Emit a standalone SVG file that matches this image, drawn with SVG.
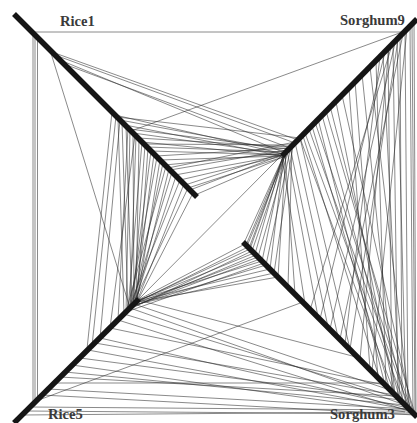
<svg xmlns="http://www.w3.org/2000/svg" width="417" height="423" viewBox="0 0 417 423">
<style>
.chr{stroke:#151515;stroke-width:5.5;stroke-linecap:butt;fill:none}
.lbl{font-family:"Liberation Serif","Times New Roman",serif;font-weight:bold;font-size:14.6px;fill:#3a3a3a}
.ln{stroke:#2a2a2a;stroke-width:0.65;fill:none;stroke-opacity:0.85}
.lg{stroke:#8a8a8a;stroke-width:1;fill:none}
</style>
<rect width="417" height="423" fill="#fff"/>
<g id="connectors">
<path class="lg" d="M32 32L404 32M33 33L33 404M35 35L35 402M37.5 37.5L37.5 399.5"/>
<!-- Rice1 to Rice5 -->
<path class="ln" d="M50 50L130 308M112 112L87 349M116 116L92 346M120 120L100 338M118 118L124 314M122 122L128 310M126 126L132 306M130 130L126 312M133 133L134 304M136 136L130 308M139 139L136 302M142 142L128 310M145 145L133 305M148 148L137 301M151 151L131 307M154 154L135 303M157 157L129 309M160 160L137 301M163 163L133 305M166 166L126 312M169 169L136 302M172 172L131 307M176 176L134 304M180 180L128 310M184 184L137 301M188 188L132 306M193 193L138 300M128 128L118 320M135 135L110 328"/>
<!-- Rice1 to Sorghum9 -->
<path class="ln" d="M52 52L298 140M55 55L295 143M60 60L285 153M64 64L290 148M131 131L405 31M115 115L284 154M120 120L286 151M125 125L283 156M129 129L288 149M133 133L284 154M138 138L290 147M142 142L283 156M147 147L286 152M151 151L284 155M156 156L289 148M160 160L283 156M165 165L285 153M170 170L287 150M175 175L284 155M180 180L283 156M185 185L286 152M188 188L283 157M190 190L284 154M195 195L283 157M117 117L300 138M144 144L292 145M168 168L295 142"/>
<!-- Sorghum9 to Sorghum3 -->
<path class="ln" d="M283 157L244 243M285 153L246 245M284 155L249 248M287 150L252 251M283 156L255 254M289 148L258 257M285 152L262 261M291 146L266 265M284 154L270 269M293 144L274 273M286 151L278 277M283 157L250 249M288 149L247 246M282 157L305 304M287 150L318 317M290 147L328 327M295 142L338 337M285 153L295 294M300 138L350 349M292 145L288 287M138 300L407 29"/>
<path class="ln" d="M309 129L410 410M305 133L405 405M315 122L412 412M322 115L400 400M300 138L395 395M312 126L390 390M318 119L385 385M303 136L380 380M326 111L415 414M330 106L407 407M336 102L395 396M342 95L413 413M403 34L340 339M398 40L350 349M395 43L330 329M389 47L360 359M407 29L372 371M385 52L320 319M380 57L345 344M392 45L310 310M410 26L413 413M412 24L415 415M405 31L408 408M400 36L402 402M397 39L406 406M393 44L398 398M388 49L392 392M383 54L400 400M376 61L386 386M370 67L410 410M362 74L395 395M355 81L378 378M349 88L370 369M414 22L416 416"/>
<!-- Rice5 to Sorghum3 -->
<path class="ln" d="M138 300L245 244M136 302L250 249M137 301L254 253M134 304L258 257M138 300L262 261M132 306L266 265M135 303L248 247M130 308L256 255M137 301L270 269M133 305L274 273M128 310L252 251M136 302L278 277M131 307L260 259M126 312L264 263"/>
<path class="ln" d="M138 300L360 358M134 304L390 390M130 308L405 405M124 314L398 398M118 320L412 412M110 328L385 385M100 338L408 408M95 343L395 395M88 350L410 410M80 358L400 400M72 365L413 413M65 372L405 405M54 383L383 383M48 389L409 409M42 395L415 415M30 407L410 410M26 411L414 414M36 401L303 302M60 377L395 396M22 415L405 412"/>
</g>
<g id="rice1">
<line class="chr" x1="14" y1="14" x2="197" y2="197"/>
<text class="lbl" x="60" y="26">Rice1</text>
</g>
<g id="sorghum9">
<line class="chr" x1="417" y1="19" x2="282" y2="156"/>
<text class="lbl" x="340" y="25">Sorghum9</text>
</g>
<g id="rice5">
<line class="chr" x1="14" y1="423" x2="139" y2="299"/>
<text class="lbl" x="48" y="419">Rice5</text>
</g>
<g id="sorghum3">
<line class="chr" x1="243" y1="242" x2="417" y2="417"/>
<text class="lbl" x="330" y="419">Sorghum3</text>
</g>
</svg>
